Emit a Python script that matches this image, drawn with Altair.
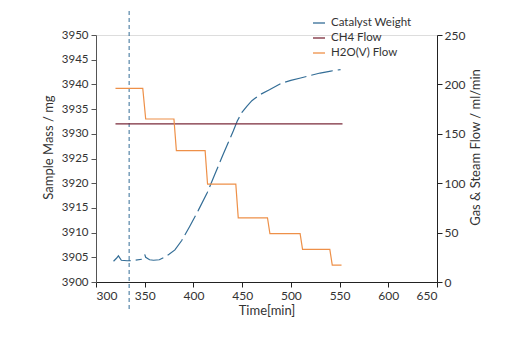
import altair as alt
import pandas as pd

# Catalyst weight (left axis, mg)
cat_time = [318, 321, 323, 326, 332, 340, 347,
            350, 351, 355, 359, 365, 370, 375, 381, 388, 396, 405, 414, 422, 430,
            441, 445, 450, 455, 460, 468, 478, 490, 500, 510, 520, 530, 541, 551]
cat_mass = [3904.2, 3904.8, 3905.3, 3904.4, 3904.3, 3904.4, 3904.6,
            3905.6, 3905.0, 3904.5, 3904.4, 3904.5, 3905.0, 3905.6, 3906.5, 3908.4,
            3911.2, 3914.5, 3918.0, 3921.8, 3925.6,
            3930.6, 3932.6, 3934.4, 3935.6, 3936.7, 3937.9, 3938.9, 3940.2, 3940.8,
            3941.3, 3941.8, 3942.3, 3942.7, 3943.0]
cat_segment = [1] * 7 + [2] * 28

# CH4 flow (right axis, ml/min)
ch4_time = [320, 553]
ch4_flow = [160, 160]

# H2O(V) flow (right axis, ml/min)
h2o_time = [320, 348, 351, 380, 382.5, 412, 414.5, 443.5, 446, 476, 478.5,
            509.5, 512, 540, 542.5, 552]
h2o_flow = [196, 196, 165, 165, 133, 133, 99, 99, 65, 65, 49, 49, 33, 33, 17, 17]

marker_time = [334]

series_names = ["Catalyst Weight", "CH4 Flow", "H2O(V) Flow"]
series_colors = ["#336d96", "#7a2a3a", "#ee9048"]

FONT = "Lato"
W, H = 341, 247
LBL = 11
TTL = 13

cat_df = pd.DataFrame({"t": cat_time, "v": cat_mass, "seg": cat_segment,
                       "series": "Catalyst Weight"})
flow_df = pd.concat([
    pd.DataFrame({"t": ch4_time, "v": ch4_flow, "series": "CH4 Flow"}),
    pd.DataFrame({"t": h2o_time, "v": h2o_flow, "series": "H2O(V) Flow"}),
])
marker_df = pd.DataFrame({"t": marker_time})

xscale = alt.Scale(domain=[300, 650], nice=False, zero=False)
xaxis = alt.Axis(values=list(range(300, 651, 50)), title="Time[min]", grid=False,
                 labelFontSize=LBL + 1, titleFontSize=TTL, titleFontWeight="normal",
                 labelColor="#333", titleColor="#333", domainColor="#222",
                 tickColor="#222", tickSize=5, labelPadding=3, titlePadding=3)

color = alt.Color("series:N", scale=alt.Scale(domain=series_names, range=series_colors),
                  legend=alt.Legend(title=None, orient="none", legendX=216, legendY=-19,
                                    symbolType="stroke", symbolSize=144,
                                    symbolStrokeWidth=1.3, labelFontSize=11.5,
                                    labelColor="#333", rowPadding=2, labelOffset=5,
                                    padding=0))

left = alt.Chart(cat_df).mark_line(strokeWidth=1.2, strokeDash=[22, 5]).encode(
    x=alt.X("t:Q", scale=xscale, axis=xaxis),
    y=alt.Y("v:Q", scale=alt.Scale(domain=[3900, 3950], nice=False, zero=False),
            axis=alt.Axis(values=list(range(3900, 3951, 5)), format="d",
                          title="Sample Mass / mg", titleY=112,
                          grid=False, labelFontSize=LBL + 0.5, titleFontSize=TTL,
                          titleFontWeight="normal", labelColor="#333",
                          titleColor="#333", domainColor="#555", tickColor="#555",
                          tickSize=5, labelPadding=3, titlePadding=6)),
    color=color,
    detail="seg:N",
)

right = alt.Chart(flow_df).mark_line(strokeWidth=1.2).encode(
    x=alt.X("t:Q", scale=xscale),
    y=alt.Y("v:Q", scale=alt.Scale(domain=[0, 250], nice=False),
            axis=alt.Axis(orient="right", values=list(range(0, 251, 50)),
                          title="Gas & Steam Flow / ml/min", titleAngle=270, titleY=112,
                          grid=False, labelFontSize=LBL + 1, titleFontSize=TTL,
                          titleFontWeight="normal", labelColor="#333",
                          titleColor="#333", domainColor="#222", tickColor="#222",
                          tickSize=5, labelPadding=2, titlePadding=18,
                          titleBaseline="bottom")),
    color=color,
)

marker = alt.Chart(marker_df).mark_rule(color="#336d96", strokeDash=[4, 3],
                                        strokeWidth=1, clip=False).encode(
    x=alt.X("t:Q", scale=xscale),
    y=alt.value(-24),
    y2=alt.value(H + 30),
)

chart = alt.layer(left, marker, right).resolve_scale(y="independent").properties(
    width=W, height=H,
    autosize=alt.AutoSizeParams(type="none"),
    padding={"left": 96, "top": 35, "right": 85, "bottom": 71},
    background="white",
).configure_view(stroke=None).configure(font=FONT)

chart.save("out.html", embed_options={"renderer": "svg", "actions": False})
